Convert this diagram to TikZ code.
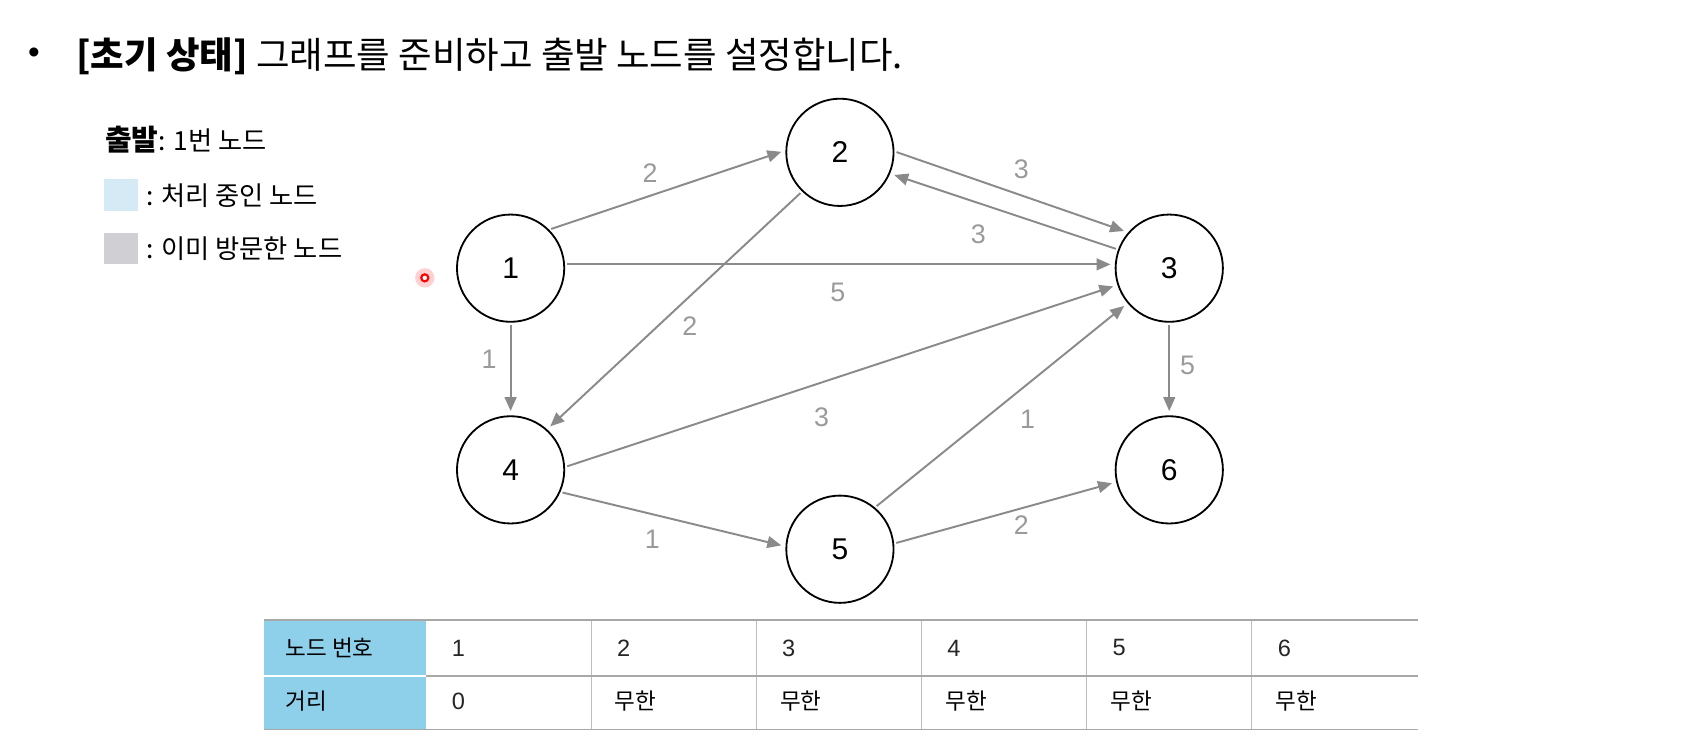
\documentclass[tikz,border=0pt]{standalone}
\usepackage{fontspec}
\setmainfont{Liberation Sans}
\newfontfamily\kr{Noto Sans CJK KR}
\usetikzlibrary{arrows.meta}
\definecolor{edgegray}{HTML}{8A8A8A}
\definecolor{labelgray}{HTML}{9A9A9A}
\definecolor{headblue}{HTML}{8ECFEA}
\definecolor{legblue}{HTML}{D6EAF6}
\definecolor{leggray}{HTML}{D0D0D4}
\definecolor{tline}{HTML}{A8A8A8}
\definecolor{vline}{HTML}{BDBDBD}
\begin{document}
\begin{tikzpicture}[x=1pt,y=-1pt,
  gnode/.style={circle, draw=black, line width=1.7pt, minimum size=100pt, inner sep=0pt, font=\fontsize{28}{30}\selectfont},
  edge/.style={draw=edgegray, line width=1.8pt, -{Triangle[length=13pt,width=11pt]}, shorten >=4pt, shorten <=2pt},
  wlabel/.style={text=labelgray, font=\fontsize{25}{27}\selectfont, inner sep=0pt},
  legtext/.style={anchor=west, inner sep=0pt, font=\kr\fontsize{24.5}{27}\selectfont},
  celltext/.style={anchor=west, inner sep=0pt, text=black!85, font=\fontsize{22}{24}\selectfont},
  cellkr/.style={anchor=west, inner sep=0pt, font=\kr\fontsize{21}{24}\selectfont}]
\useasboundingbox (0,0) rectangle (1568,694);
\fill[white] (0,0) rectangle (1568,694);

% title
\node[anchor=west, inner sep=0pt, font=\fontsize{31}{33}\selectfont] (bullet) at (26,52) {•};
\node[anchor=west, inner sep=0pt, font=\kr\fontsize{34}{37}\selectfont] (title) at (71,52) {{\bfseries [초기 상태]} 그래프를 준비하고 출발 노드를 설정합니다.};

% legend
\node[legtext] (leg1) at (98,130) {{\bfseries\fontsize{27}{29}\selectfont 출발}: 1번 노드};
\fill[legblue] (97,167) rectangle (129,197);
\node[legtext] (leg2) at (136,182) {: 처리 중인 노드};
\fill[leggray] (97,217) rectangle (129,246);
\node[legtext] (leg3) at (136,232) {: 이미 방문한 노드};

% cursor dot
\fill[red!30, opacity=0.6] (396,259) circle (9);
\draw[red, line width=2pt, fill=white] (396,259) circle (3.3);

% graph nodes
\node[gnode] (n1) at (476,250) {1};
\node[gnode] (n2) at (783,142) {2};
\node[gnode] (n3) at (1090,250) {3};
\node[gnode] (n4) at (476,438) {4};
\node[gnode] (n5) at (783,512) {5};
\node[gnode] (n6) at (1090,438) {6};

% edges
\draw[edge] (n1.45) -- (n2.178);
\draw[edge] (n2.1) -- (n3.139);
\draw[edge] (n3.160) -- (n2.-23);
\draw[edge] (n1.4) -- (n3.176);
\draw[edge] (n2.226) -- (n4.48);
\draw[edge] (n1.270) -- (n4.90);
\draw[edge] (n4.3) -- (n3.198);
\draw[edge] (n5.50) -- (n3.220);
\draw[edge] (n3.270) -- (n6.90);
\draw[edge] (n4.-24) -- (n5.177);
\draw[edge] (n5.6) -- (n6.193);

% edge labels
\node[wlabel] (w12) at (606,161) {2};
\node[wlabel] (w23) at (952,158) {3};
\node[wlabel] (w32) at (912,218) {3};
\node[wlabel] (w13) at (781,273) {5};
\node[wlabel] (w24) at (643,304) {2};
\node[wlabel] (w14) at (456,335) {1};
\node[wlabel] (w43) at (766,389) {3};
\node[wlabel] (w53) at (958,391) {1};
\node[wlabel] (w36) at (1107,341) {5};
\node[wlabel] (w45) at (608,503) {1};
\node[wlabel] (w56) at (952,490) {2};

% table
\fill[headblue] (246,578) rectangle (397,680);
\draw[white, line width=1.5pt] (246,630) -- (397,630);
\foreach \x in {551,705,859,1013,1167} \draw[vline, line width=1pt] (\x,578) -- (\x,680);
\draw[tline, line width=1.6pt] (246,578) -- (1322,578);
\draw[tline, line width=1.6pt] (397,630) -- (1322,630);
\draw[tline, line width=1.6pt] (246,680) -- (1322,680);

\node[cellkr] (h0) at (266,604) {노드 번호};
\node[cellkr] (d0) at (266,654) {거리};
\node[celltext] (h1) at (421,604) {1};
\node[celltext] (h2) at (575,604) {2};
\node[celltext] (h3) at (729,604) {3};
\node[celltext] (h4) at (883,604) {4};
\node[celltext] (h5) at (1037,604) {5};
\node[celltext] (h6) at (1191,604) {6};
\node[celltext] (d1) at (421,654) {0};
\node[cellkr] (d2) at (573,654) {무한};
\node[cellkr] (d3) at (727,654) {무한};
\node[cellkr] (d4) at (881,654) {무한};
\node[cellkr] (d5) at (1035,654) {무한};
\node[cellkr] (d6) at (1189,654) {무한};
\end{tikzpicture}
\end{document}
